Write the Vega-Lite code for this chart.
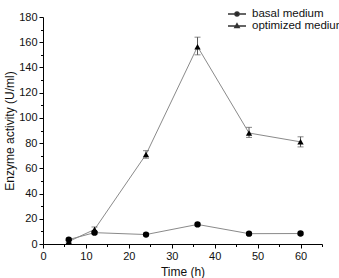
{
  "$schema": "https://vega.github.io/schema/vega-lite/v6.json",
  "width": 279,
  "height": 227,
  "autosize": "none",
  "padding": {"left": 43, "top": 17, "right": 17, "bottom": 34},
  "config": {
    "view": {"stroke": null},
    "font": "Liberation Sans",
    "axis": {
      "domainColor": "#000",
      "tickColor": "#000",
      "labelColor": "#111",
      "titleColor": "#111",
      "labelFont": "Liberation Sans",
      "titleFont": "Liberation Sans",
      "labelFontSize": 11,
      "titleFontSize": 12,
      "titleFontWeight": "normal",
      "labelOverlap": false,
      "grid": false
    }
  },
  "data": {
    "values": [
      {"time": 6, "series": "basal medium", "activity": 3.5, "lo": 2.5, "hi": 4.5},
      {"time": 12, "series": "basal medium", "activity": 9, "lo": 8, "hi": 10},
      {"time": 24, "series": "basal medium", "activity": 7.5, "lo": 6.5, "hi": 8.5},
      {"time": 36, "series": "basal medium", "activity": 15.5, "lo": 14.5, "hi": 16.5},
      {"time": 48, "series": "basal medium", "activity": 8.2, "lo": 7.2, "hi": 9.2},
      {"time": 60, "series": "basal medium", "activity": 8.3, "lo": 7.3, "hi": 9.3},
      {"time": 6, "series": "optimized medium", "activity": 2, "lo": 1, "hi": 3},
      {"time": 12, "series": "optimized medium", "activity": 11.5, "lo": 9.5, "hi": 13.5},
      {"time": 24, "series": "optimized medium", "activity": 71, "lo": 68, "hi": 74},
      {"time": 36, "series": "optimized medium", "activity": 156.5, "lo": 150, "hi": 164},
      {"time": 48, "series": "optimized medium", "activity": 88, "lo": 84.5, "hi": 92.5},
      {"time": 60, "series": "optimized medium", "activity": 81, "lo": 77, "hi": 85}
    ]
  },
  "layer": [
    {
      "mark": {"type": "line", "color": "#8a8a8a", "strokeWidth": 1},
      "encoding": {
        "x": {
          "field": "time", "type": "quantitative",
          "scale": {"domain": [0, 65], "nice": false},
          "axis": {
            "title": "Time (h)",
            "values": [0, 10, 20, 30, 40, 50, 60],
            "tickSize": 4,
            "labelPadding": 2,
            "titlePadding": 5,
            "labelFlush": false
          }
        },
        "y": {
          "field": "activity", "type": "quantitative",
          "scale": {"domain": [0, 180], "nice": false},
          "axis": {
            "title": "Enzyme activity (U/ml)",
            "values": [0, 20, 40, 60, 80, 100, 120, 140, 160, 180],
            "tickSize": 4,
            "labelPadding": 2,
            "titlePadding": 2,
            "labelFlush": false
          }
        },
        "detail": {"field": "series"}
      }
    },
    {
      "mark": {"type": "rule", "color": "#555", "strokeWidth": 1},
      "encoding": {
        "x": {"field": "time", "type": "quantitative", "axis": null},
        "y": {"field": "lo", "type": "quantitative", "axis": null},
        "y2": {"field": "hi"}
      }
    },
    {
      "mark": {"type": "tick", "orient": "horizontal", "color": "#555", "size": 6, "thickness": 1},
      "encoding": {
        "x": {"field": "time", "type": "quantitative", "axis": null},
        "y": {"field": "lo", "type": "quantitative", "axis": null}
      }
    },
    {
      "mark": {"type": "tick", "orient": "horizontal", "color": "#555", "size": 6, "thickness": 1},
      "encoding": {
        "x": {"field": "time", "type": "quantitative", "axis": null},
        "y": {"field": "hi", "type": "quantitative", "axis": null}
      }
    },
    {
      "mark": {"type": "point", "filled": true, "color": "#000", "opacity": 1, "size": 40},
      "encoding": {
        "x": {
          "field": "time", "type": "quantitative",
          "axis": {
            "orient": "bottom", "title": null, "labels": false, "domain": false,
            "values": [5, 15, 25, 35, 45, 55, 65], "tickSize": 2.5
          }
        },
        "y": {
          "field": "activity", "type": "quantitative",
          "axis": {
            "orient": "left", "title": null, "labels": false, "domain": false,
            "values": [10, 30, 50, 70, 90, 110, 130, 150, 170], "tickSize": 2.5
          }
        },
        "shape": {
          "field": "series", "type": "nominal",
          "scale": {"domain": ["basal medium", "optimized medium"], "range": ["circle", "triangle-up"]},
          "legend": null
        }
      }
    },
    {
      "transform": [{"filter": "datum.time < 0"}],
      "mark": {"type": "point", "fill": "#000", "stroke": "#333", "strokeWidth": 1, "opacity": 1, "size": 196},
      "encoding": {
        "x": {"field": "time", "type": "quantitative", "axis": null},
        "y": {"field": "activity", "type": "quantitative", "axis": null},
        "shape": {
          "field": "series", "type": "nominal",
          "scale": {
            "domain": ["basal medium", "optimized medium"],
            "range": [
              "M-1.8,0H1.8M-0.4,0A0.4,0.4 0 1,0 0.4,0A0.4,0.4 0 1,0 -0.4,0Z",
              "M-1.8,0H1.8M0,-0.45L0.42,0.3L-0.42,0.3Z"
            ]
          },
          "legend": {
            "title": null,
            "orient": "none",
            "legendX": 188,
            "legendY": -9,
            "padding": 0,
            "rowPadding": 0,
            "labelOffset": 9,
            "labelFont": "Liberation Sans",
            "labelFontSize": 11.5,
            "labelColor": "#111",
            "labelLimit": 200
          }
        }
      }
    }
  ],
  "resolve": {"scale": {"shape": "independent"}, "axis": {"x": "independent", "y": "independent"}}
}
